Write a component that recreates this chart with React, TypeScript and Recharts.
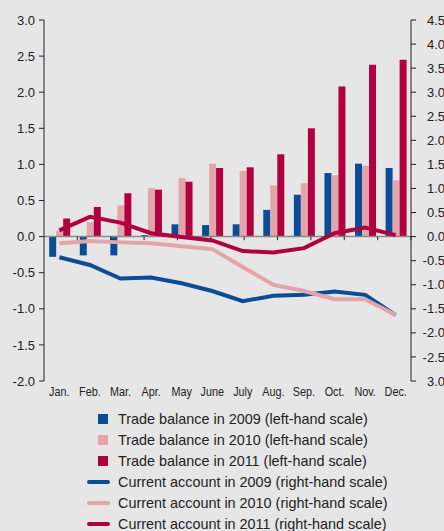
import React from 'react';
import {
  ComposedChart,
  Bar,
  Line,
  XAxis,
  YAxis,
  ReferenceLine,
  Legend,
} from 'recharts';

const months = ['Jan.', 'Feb.', 'Mar.', 'Apr.', 'May', 'June', 'July', 'Aug.', 'Sep.', 'Oct.', 'Nov.', 'Dec.'];

const trade2009 = [-0.28, -0.26, -0.26, 0.02, 0.17, 0.16, 0.17, 0.37, 0.58, 0.88, 1.01, 0.95];
const trade2010 = [0.08, 0.2, 0.43, 0.67, 0.81, 1.01, 0.91, 0.71, 0.74, 0.85, 0.98, 0.78];
const trade2011 = [0.25, 0.41, 0.6, 0.65, 0.76, 0.95, 0.96, 1.14, 1.5, 2.08, 2.38, 2.45];

const ca2009 = [-0.43, -0.59, -0.87, -0.85, -0.97, -1.13, -1.34, -1.23, -1.21, -1.14, -1.21, -1.63];
const ca2010 = [-0.14, -0.09, -0.12, -0.14, -0.2, -0.26, -0.63, -1.0, -1.13, -1.3, -1.3, -1.63];
const ca2011 = [0.13, 0.41, 0.29, 0.07, -0.01, -0.08, -0.3, -0.33, -0.24, 0.07, 0.19, 0.03];

const leftTicks = [-2, -1.5, -1, -0.5, 0, 0.5, 1, 1.5, 2, 2.5, 3];
const leftTickLabels = ['-2.0', '-1.5', '-1.0', '-0.5', '0.0', '0.5', '1.0', '1.5', '2.0', '2.5', '3.0'];
const rightTicks = [-3, -2.5, -2, -1.5, -1, -0.5, 0, 0.5, 1, 1.5, 2, 2.5, 3, 3.5, 4, 4.5];
const rightTickLabels = ['3.0', '-2.5', '-2.0', '-1.5', '-1.0', '-0.5', '0.0', '0.5', '1.0', '1.5', '2.0', '2.5', '3.0', '3.5', '4.0', '4.5'];

const seriesNames = [
  'Trade balance in 2009 (left-hand scale)',
  'Trade balance in 2010 (left-hand scale)',
  'Trade balance in 2011 (left-hand scale)',
  'Current account in 2009 (right-hand scale)',
  'Current account in 2010 (right-hand scale)',
  'Current account in 2011 (right-hand scale)',
];

const BLUE = '#0a4d96';
const PINK = '#e2a5a9';
const RED = '#b0003f';
const TEXT = '#222222';
const FONT = '"Liberation Sans", Arial, sans-serif';

const data = months.map((m, i) => ({
  month: m,
  t2009: trade2009[i],
  t2010: trade2010[i],
  t2011: trade2011[i],
  c2009: ca2009[i],
  c2010: ca2010[i],
  c2011: ca2011[i],
}));

const boundaries = months.slice(1).map((_, i) => i + 1);

const MonthTick = (props: any) => {
  const { x, y, payload } = props;
  return (
    <g transform={`translate(${x},${y})`}>
      <text transform="scale(0.8,1)" x={0} y={0} dy="0.71em" textAnchor="middle" fontSize={13.5} fill={TEXT} fontFamily={FONT}>
        {payload.value}
      </text>
    </g>
  );
};

const RightTick = (props: any) => {
  const { x, y, payload } = props;
  const idx = rightTicks.indexOf(payload.value);
  return (
    <text x={x + 29} y={y} dy="0.355em" textAnchor="end" fontSize={13} fill={TEXT} fontFamily={FONT}>
      {idx >= 0 ? rightTickLabels[idx] : payload.value}
    </text>
  );
};

const LegendContent = (props: any) => {
  const raw = props.payload || [];
  const items = seriesNames
    .map((n) => raw.find((p: any) => p.value === n))
    .filter(Boolean);
  return (
    <div style={{ fontFamily: FONT, fontSize: 14.4, color: TEXT }}>
      {items.map((it: any, i: number) => (
        <div key={i} style={{ display: 'flex', alignItems: 'center', height: 20.95 }}>
          <div style={{ width: 87 }} />
          <div style={{ width: 24, height: 10, position: 'relative' }}>
            {it.type === 'line' ? (
              <div style={{ position: 'absolute', left: 0, top: 3, width: 23, height: 4, borderRadius: 2, background: it.color }} />
            ) : (
              <div style={{ position: 'absolute', left: 11, top: 0, width: 10, height: 10, background: it.color }} />
            )}
          </div>
          <div style={{ width: 7 }} />
          <span style={{ whiteSpace: 'nowrap' }}>{it.value}</span>
        </div>
      ))}
    </div>
  );
};

export default function App() {
  return (
    <div style={{ position: 'absolute', left: 0, top: 0, width: 444, height: 531, background: '#e6e6e6', overflow: 'hidden' }}>
      <ComposedChart
        width={444}
        height={531}
        data={data}
        margin={{ top: 20, right: 0, bottom: 120, left: 0 }}
        barCategoryGap="17%"
        barGap={0}
      >
        <XAxis
          dataKey="month"
          axisLine={false}
          tickLine={false}
          tickSize={3}
          tickMargin={2}
          height={30}
          interval={0}
          tick={<MonthTick />}
        />
        <XAxis xAxisId="grid" type="number" domain={[0, 12]} hide allowDataOverflow />
        <YAxis
          yAxisId="left"
          width={44}
          domain={[-2, 3]}
          ticks={leftTicks}
          interval={0}
          tickFormatter={(v: number) => leftTickLabels[leftTicks.indexOf(v)]}
          axisLine={{ stroke: TEXT }}
          tickLine={{ stroke: TEXT }}
          tickSize={5}
          tickMargin={4}
          tick={{ fontSize: 13, fill: TEXT, fontFamily: FONT }}
          allowDataOverflow
        />
        <YAxis
          yAxisId="right"
          orientation="right"
          width={33}
          domain={[-3, 4.5]}
          ticks={rightTicks}
          interval={0}
          axisLine={{ stroke: TEXT }}
          tickLine={{ stroke: TEXT }}
          tickSize={5}
          tickMargin={0}
          tick={<RightTick />}
          allowDataOverflow
        />
        <Bar yAxisId="left" dataKey="t2009" name={seriesNames[0]} fill={BLUE} isAnimationActive={false} legendType="rect" />
        <Bar yAxisId="left" dataKey="t2010" name={seriesNames[1]} fill={PINK} isAnimationActive={false} legendType="rect" />
        <Bar yAxisId="left" dataKey="t2011" name={seriesNames[2]} fill={RED} isAnimationActive={false} legendType="rect" />
        <ReferenceLine yAxisId="left" y={0} stroke="#8a8a8a" strokeWidth={1.5} />
        {boundaries.map((b) => (
          <ReferenceLine
            key={b}
            xAxisId="grid"
            yAxisId="left"
            segment={[{ x: b, y: 0 }, { x: b, y: -0.05 }]}
            stroke={TEXT}
            strokeWidth={1}
          />
        ))}
        <Line yAxisId="right" type="linear" dataKey="c2009" name={seriesNames[3]} stroke={BLUE} strokeWidth={4} dot={false} isAnimationActive={false} legendType="line" />
        <Line yAxisId="right" type="linear" dataKey="c2010" name={seriesNames[4]} stroke={PINK} strokeWidth={4} dot={false} isAnimationActive={false} legendType="line" />
        <Line yAxisId="right" type="linear" dataKey="c2011" name={seriesNames[5]} stroke={RED} strokeWidth={4} dot={false} isAnimationActive={false} legendType="line" />
        <Legend
          layout="vertical"
          align="center"
          verticalAlign="middle"
          content={<LegendContent />}
          wrapperStyle={{ top: 409, left: 0, width: 444 }}
        />
      </ComposedChart>
    </div>
  );
}
